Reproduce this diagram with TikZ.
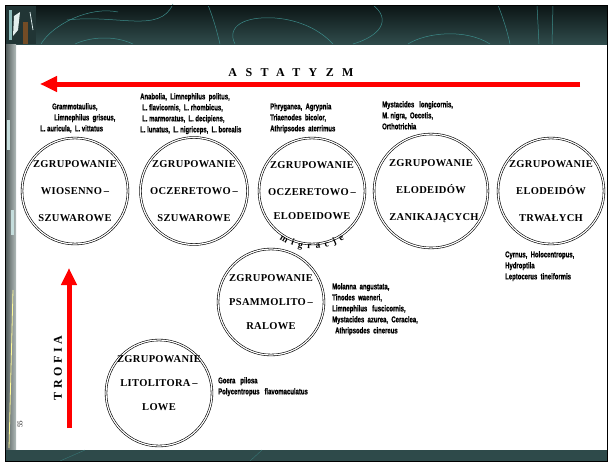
\documentclass[tikz,border=0pt]{standalone}
\usepackage{fontspec}
\setmainfont{Liberation Serif}
\newfontfamily\spfont[FakeStretch=0.7, FakeBold=1]{Liberation Sans}
\usetikzlibrary{arrows.meta,decorations.text}

\definecolor{bannertop}{HTML}{0C1515}
\definecolor{bannerbot}{HTML}{2F4B4B}
\definecolor{swirl}{HTML}{3C8C8A}
\definecolor{stripgray}{HTML}{7E8E8C}
\definecolor{bandteal}{HTML}{2E4A4A}
\definecolor{arrowred}{HTML}{FF0000}

\tikzset{
  ring/.style={circle, draw, double, double distance=1.2pt, line width=0.6pt,
    minimum size=106pt, inner sep=0pt, align=center,
    font=\bfseries\fontsize{10.5}{12}\selectfont\addfontfeature{LetterSpace=3}},
  ringtext/.style={align=center, inner sep=0pt,
    font=\bfseries\fontsize{10.5}{12}\selectfont\addfontfeature{LetterSpace=3}},
  species/.style={anchor=north west, align=left, inner sep=0pt,
    font=\spfont\bfseries\fontsize{8.5}{11}\selectfont},
  bigarrow/.style={line width=5pt, arrowred, -{Triangle[length=17pt,width=15pt]}},
  headline/.style={inner sep=0pt, font=\bfseries\fontsize{12}{14}\selectfont}
}

\begin{document}
\begin{tikzpicture}[x=1pt, y=-1pt]
  \useasboundingbox (0,0) rectangle (611,466);
  \fill[white] (0,0) rectangle (611,466);

  %%%%% SLIDE FRAME %%%%%
  \shade[top color=bannertop, bottom color=bannerbot] (5,5) rectangle (607,44);
  \begin{scope}[swirl, line width=0.5pt]
    \draw (41,44) .. controls (53,24) and (90,6) .. (118,12);
    \draw (67,20) .. controls (118,14) and (160,34) .. (173,4);
    \draw (75,44) .. controls (90,37) and (114,35) .. (133,44);
    \draw (208,5) .. controls (214,20) and (217,32) .. (220,44);
    \draw (235,44) .. controls (226,26) and (245,16) .. (275,18) .. controls (300,20) and (320,30) .. (333,44);
    \draw (373,5) .. controls (392,20) and (380,36) .. (353,44);
    \draw (408,44) .. controls (425,33) and (465,28) .. (490,44);
    \draw (498,5) .. controls (503,18) and (507,30) .. (510,44);
    \draw (537,5) -- (539,44);
    \draw (553,5) -- (552,44);
  \end{scope}
  % corner ornament
  \fill[bannerbot!70!black] (5,5) rectangle (36,44);
  \fill[swirl!60!white] (9,10) rectangle (12,40);
  \fill[white!85!swirl] (14,16) -- (20,12) -- (18,30) -- (13,36) -- cycle;
  \fill[brown!60!black] (23,22) rectangle (28,44);
  \draw[white!80!swirl, line width=0.8pt] (30,12) -- (33,30);
  % left strip and bottom band
  \shade[left color=stripgray!60!black, right color=stripgray!60!white] (5,44) rectangle (16,450);
  \draw[yellow!40!white, line width=0.8pt] (13,290) -- (9,448);
  \fill[white!70!swirl] (7,120) rectangle (10,150);
  \fill[white!70!swirl] (11,210) rectangle (14,235);
  \fill[bandteal] (5,450) rectangle (607,461);
  \draw[swirl!70!bandteal, line width=0.4pt] (60,461) -- (85,450) (250,461) -- (262,450);
  \draw[line width=1pt] (5,5) rectangle (607,461);

  %%%%% AXES %%%%%
  \node[headline] (astat) at (291,73) {\addfontfeature{LetterSpace=70}ASTATYZM};
  \coordinate (astatR) at (580,84);
  \coordinate (astatL) at (40,84);
  \draw[bigarrow] (astatR) -- (astatL);

  \node[headline, rotate=90] (trof) at (58,368) {\addfontfeature{LetterSpace=30}TROFIA};
  \coordinate (trofB) at (69,428);
  \coordinate (trofT) at (69,268);
  \draw[bigarrow] (trofB) -- (trofT);

  \node[rotate=90, inner sep=0pt, font=\fontsize{7}{8}\selectfont] (pnum) at (20,424) {55};

  %%%%% GROUPS %%%%%
  \node[ring] (c1) at (75,191)  {ZGRUPOWANIE\\[15pt]WIOSENNO\,--\\[15pt]SZUWAROWE};
  \node[ring] (c2) at (194,191) {ZGRUPOWANIE\\[15pt]OCZERETOWO\,--\\[15pt]SZUWAROWE};
  \node[ring] (c3) at (312,191) {ZGRUPOWANIE\\[15pt]OCZERETOWO\,--\\[12pt]ELODEIDOWE};
  \node[ring] (c4) at (431,191) {ZGRUPOWANIE\\[15pt]ELODEIDÓW\\[15pt]\hspace*{6pt}ZANIKAJĄCYCH};
  \node[ring] (c5) at (551,191) {ZGRUPOWANIE\\[15pt]ELODEIDÓW\\[15pt]TRWAŁYCH};
  \node[ring] (c6) at (271,302) {ZGRUPOWANIE\\[12pt]PSAMMOLITO\,--\\[12pt]RALOWE};
  \node[ring] (c7) at (159,393) {};
  \node[ringtext] (t7) at ([yshift=10pt]c7.center) {ZGRUPOWANIE\\[12pt]LITOLITORA\,--\\[12pt]LOWE};

  \path[decorate, decoration={text along path, text align={fit to path},
      text={|\bfseries\fontsize{9.5}{11}\selectfont|migracje}}]
    ([shift={(124:58)}]c3.center) arc[start angle=124, end angle=56, radius=58];

  %%%%% SPECIES %%%%%
  \node[species] (sp1) at (40,103) {\hspace*{12pt}Grammotaulius,\\\hspace*{14pt}Limnephilus\ \ griseus,\\L. auricula,\ \ L. vittatus};
  \node[species] (sp2) at (140,93) {Anabolia,\ \ Limnephilus\ \ politus,\\\hspace*{2pt}L. flavicornis,\ \ L. rhombicus,\\\hspace*{2pt}L. marmoratus,\ \ L. decipiens,\\L. lunatus,\ \ L. nigriceps,\ \ L. borealis};
  \node[species] (sp3) at (270,103) {Phryganea,\ \ Agrypnia\\Triaenodes\ \ bicolor,\\Athripsodes\ \ aterrimus};
  \node[species] (sp4) at (382,101) {Mystacides\ \ \ longicornis,\\M. nigra,\ \ Oecetis,\\Orthotrichia};
  \node[species] (sp5) at (505,251) {Cyrnus,\ \ Holocentropus,\\Hydroptila\\Leptocerus\ \ tineiformis};
  \node[species] (sp6) at (332,283) {Molanna\ \ angustata,\\Tinodes\ \ waeneri,\\Limnephilus\ \ \ fuscicornis,\\Mystacides\ \ azurea,\ \ Ceraclea,\\\hspace*{3pt}Athripsodes\ \ cinereus};
  \node[species] (sp7) at (218,377) {Goera\ \ \ pilosa\\Polycentropus\ \ \ flavomaculatus};
\end{tikzpicture}
\end{document}
